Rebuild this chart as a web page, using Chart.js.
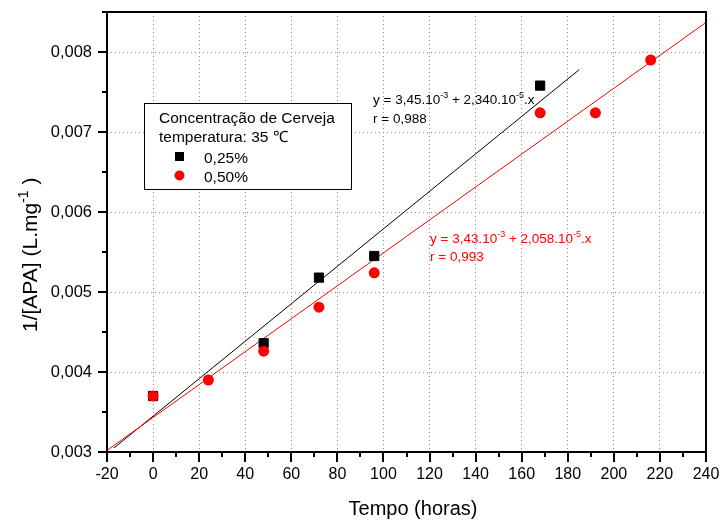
<!DOCTYPE html>
<html>
<head>
<meta charset="utf-8">
<title>1/[APA] x Tempo</title>
<script src="https://cdn.jsdelivr.net/npm/chart.js@4.4.0/dist/chart.umd.min.js"></script>
<style>
    body { margin: 0; background: #fff; }
    canvas { display: block; }
</style>
</head>
<body>
<canvas id="grafico" width="723" height="524"></canvas>
<script>
var tempo025 = [0, 48, 72, 96, 168];
var apa025 = [0.00370, 0.00436, 0.00518, 0.00545, 0.00758];
var tempo050 = [0, 24, 48, 72, 96, 168, 192, 216];
var apa050 = [0.00370, 0.00390, 0.00426, 0.00481, 0.00524, 0.00724, 0.00724, 0.00790];

// retas de ajuste (extremos)
var ajusteX025 = [-17, 185];
var ajusteY025 = [0.00305, 0.00778];
var ajusteX050 = [-20, 240];
var ajusteY050 = [0.00302, 0.00837];

var legendaTitulo = ['Concentração de Cerveja', 'temperatura: 35 \u2103'];
var eixoX = { min: -20, max: 240, passo: 10 };
var eixoY = { min: 0.003, max: 0.0085, passo: 0.0005 };

var fonte = '"Liberation Sans", Arial, Helvetica, sans-serif';

function pontos(xs, ys) {
    return xs.map(function (x, i) { return { x: x, y: ys[i] }; });
}
function maiorX(v) { return Math.round(v) % 20 === 0; }
function maiorY(v) { return Math.round(v * 10000) % 10 === 0; }

// texto com expoentes: partes [texto, sobrescrito?]
function textoRico(ctx, partes, x, y, tam, cor) {
    ctx.fillStyle = cor;
    ctx.textBaseline = 'alphabetic';
    ctx.textAlign = 'left';
    partes.forEach(function (p) {
        if (p[1]) {
            ctx.font = Math.round(tam * 0.65) + 'px ' + fonte;
            ctx.fillText(p[0], x, y - tam * 0.42);
        } else {
            ctx.font = tam + 'px ' + fonte;
            ctx.fillText(p[0], x, y);
        }
        x += ctx.measureText(p[0]).width;
    });
}

var moldura = {
    id: 'moldura',
    afterDraw: function (chart) {
        var ctx = chart.ctx, a = chart.chartArea;
        var sx = chart.scales.x, sy = chart.scales.y;
        ctx.save();
        ctx.strokeStyle = '#000';
        ctx.lineWidth = 2;
        sx.ticks.forEach(function (t) {
            var px = Math.round(sx.getPixelForValue(t.value));
            var len = maiorX(t.value) ? 10 : 5;
            ctx.beginPath(); ctx.moveTo(px, a.bottom); ctx.lineTo(px, a.bottom + len); ctx.stroke();
        });
        sy.ticks.forEach(function (t) {
            var py = Math.round(sy.getPixelForValue(t.value));
            var len = maiorY(t.value) ? 9 : 5;
            ctx.beginPath(); ctx.moveTo(a.left, py); ctx.lineTo(a.left - len, py); ctx.stroke();
        });
        ctx.strokeRect(a.left, a.top, a.right - a.left, a.bottom - a.top);

        // titulos dos eixos
        ctx.fillStyle = '#000';
        ctx.font = '20px ' + fonte;
        ctx.textAlign = 'center';
        ctx.textBaseline = 'alphabetic';
        ctx.fillText('Tempo (horas)', 413, 515);

        ctx.save();
        ctx.translate(37, 332);
        ctx.rotate(-Math.PI / 2);
        textoRico(ctx, [['1/[APA] (L.mg', false], ['-1', true], [' )', false]], 0, 0, 21, '#000');
        ctx.restore();

        // equacoes das retas
        textoRico(ctx, [['y = 3,45.10', false], ['-3', true], [' + 2,340.10', false], ['-5', true], ['.x', false]], 373, 104, 13.5, '#000');
        textoRico(ctx, [['r = 0,988', false]], 373, 123, 13.5, '#000');
        textoRico(ctx, [['y = 3,43.10', false], ['-3', true], [' + 2,058.10', false], ['-5', true], ['.x', false]], 430, 243, 13.5, '#ff0000');
        textoRico(ctx, [['r = 0,993', false]], 430, 261, 13.5, '#ff0000');

        // legenda
        ctx.lineWidth = 1;
        ctx.fillStyle = '#fff';
        ctx.fillRect(144, 103, 207, 86);
        ctx.strokeRect(144.5, 103.5, 207, 86);
        ctx.fillStyle = '#000';
        ctx.font = '15.5px ' + fonte;
        ctx.textAlign = 'left';
        ctx.fillText(legendaTitulo[0], 159, 123);
        ctx.fillText(legendaTitulo[1], 159, 142);
        var linha = 163;
        chart.data.datasets.forEach(function (ds) {
            if (!ds.label) return;
            ctx.fillStyle = ds.backgroundColor;
            if (ds.pointStyle === 'rect') {
                ctx.fillRect(175, linha - 11, 9, 9);
            } else {
                ctx.beginPath(); ctx.arc(179.5, linha - 6.5, 5, 0, Math.PI * 2); ctx.fill();
            }
            ctx.fillStyle = '#000';
            ctx.fillText(ds.label, 204, linha);
            linha += 19;
        });
        ctx.restore();
    }
};

var ctxG = document.getElementById('grafico').getContext('2d');
var grafico = new Chart(ctxG, {
    type: 'scatter',
    data: {
        datasets: [{
            label: '0,25%',
            data: pontos(tempo025, apa025),
            pointStyle: 'rect',
            pointRadius: 6.5,
            backgroundColor: '#000',
            borderColor: '#000',
            borderWidth: 1,
            order: 2
        }, {
            label: '0,50%',
            data: pontos(tempo050, apa050),
            pointStyle: 'circle',
            pointRadius: 5.5,
            backgroundColor: '#ff0000',
            borderColor: '#ff0000',
            borderWidth: 0,
            order: 1
        }, {
            data: pontos(ajusteX025, ajusteY025),
            showLine: true,
            pointRadius: 0,
            borderColor: '#000',
            borderWidth: 1,
            order: 4
        }, {
            data: pontos(ajusteX050, ajusteY050),
            showLine: true,
            pointRadius: 0,
            borderColor: '#ff0000',
            borderWidth: 1,
            order: 3
        }]
    },
    options: {
        responsive: false,
        animation: false,
        devicePixelRatio: 1,
        layout: { padding: { top: 12, right: 17, left: 0, bottom: 0 } },
        plugins: {
            legend: { display: false },
            tooltip: { enabled: false }
        },
        scales: {
            x: {
                type: 'linear',
                min: eixoX.min,
                max: eixoX.max,
                afterFit: function (s) {
                    s.height = 72;
                    s.paddingLeft = 0;
                    s.paddingRight = 0;
                },
                border: { display: false, dash: [1, 3] },
                grid: {
                    drawTicks: false,
                    color: function (c) { return maiorX(c.tick.value) ? '#8c8c8c' : 'rgba(0,0,0,0)'; }
                },
                ticks: {
                    stepSize: eixoX.passo,
                    maxTicksLimit: 100,
                    autoSkip: false,
                    maxRotation: 0,
                    padding: 13,
                    color: '#000',
                    font: { family: fonte, size: 16 },
                    callback: function (v) { return maiorX(v) ? String(v) : ''; }
                }
            },
            y: {
                type: 'linear',
                min: eixoY.min,
                max: eixoY.max,
                afterFit: function (s) {
                    s.width = 107;
                    s.paddingTop = 0;
                    s.paddingBottom = 0;
                },
                border: { display: false, dash: [1, 3] },
                grid: {
                    drawTicks: false,
                    color: function (c) { return maiorY(c.tick.value) ? '#8c8c8c' : 'rgba(0,0,0,0)'; }
                },
                ticks: {
                    stepSize: eixoY.passo,
                    maxTicksLimit: 100,
                    autoSkip: false,
                    padding: 15,
                    color: '#000',
                    font: { family: fonte, size: 16.5 },
                    callback: function (v) { return maiorY(v) ? v.toFixed(3).replace('.', ',') : ''; }
                }
            }
        }
    },
    plugins: [moldura]
});
</script>
</body>
</html>
